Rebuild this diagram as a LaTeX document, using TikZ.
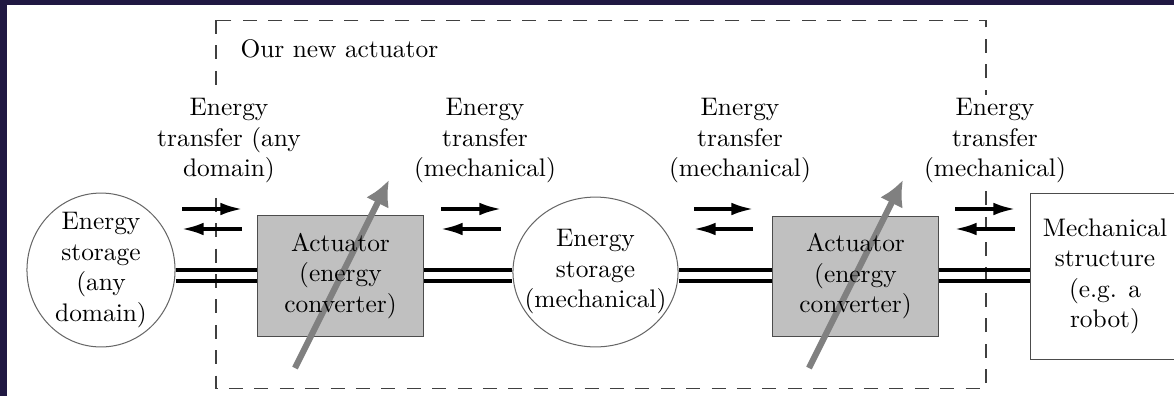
\documentclass[tikz,border=0pt]{standalone}
\usetikzlibrary{arrows.meta,shapes.geometric}
\definecolor{frame}{RGB}{32,24,66}
\definecolor{boxgray}{RGB}{192,192,192}
\begin{document}
\begin{tikzpicture}[x=0.3937pt,y=-0.3937pt,
  lbl/.style={align=center,fill=white,inner sep=1.5pt},
  txt/.style={align=center,inner sep=0pt},
  store/.style={ellipse,draw=black!60,inner sep=0pt},
  conv/.style={rectangle,draw=black!70,fill=boxgray,inner sep=0pt,minimum width=65.7pt,minimum height=47.3pt},
  plain/.style={rectangle,draw=black!70,fill=white,inner sep=0pt},
  link/.style={line width=1.2pt},
  flow/.style={line width=1.2pt,-{Latex[length=8.5pt,width=5pt]}},
  ctrl/.style={line width=2.4pt,draw=black!50,-{Latex[length=10pt,width=10pt]}},
  bound/.style={dash pattern=on 5.5pt off 4.5pt,draw=black!75,line width=0.4pt}]
\useasboundingbox (0,0) rectangle (1174,396);
\clip (0,0) rectangle (1174,396);
\fill[white] (0,0) rectangle (1174,396);
\fill[frame] (0,0) rectangle (1174,5);
\fill[frame] (0,0) rectangle (7,396);
% actuator boundary
\draw[bound] (216,20) rectangle (986,388);
\node[anchor=base west,inner sep=0pt] (title) at (240,57) {Our new actuator};
% transfer labels
\node[lbl] (t1) at (229,141) {Energy\\transfer (any\\domain)};
\node[lbl] (t2) at (485,141) {Energy\\transfer\\(mechanical)};
\node[lbl] (t3) at (740,141) {Energy\\transfer\\(mechanical)};
\node[lbl] (t4) at (995,141) {Energy\\transfer\\(mechanical)};
% block shapes
\node[store,minimum width=58.3pt,minimum height=60.6pt] (c1) at (101,270) {};
\node[conv] (a1) at (340.5,276) {};
\node[store,minimum width=65pt,minimum height=59pt] (c2) at (595.5,272) {};
\node[conv] (a2) at (855.5,276.5) {};
\node[plain,minimum width=59pt,minimum height=65.7pt] (m) at (1105,276.5) {};
% shafts (double lines)
\draw[link] (c1.east |- 0,270) -- (a1.west |- 0,270);
\draw[link] (c1.east |- 0,281) -- (a1.west |- 0,281);
\draw[link] (a1.east |- 0,270) -- (c2.west |- 0,270);
\draw[link] (a1.east |- 0,281) -- (c2.west |- 0,281);
\draw[link] (c2.east |- 0,270) -- (a2.west |- 0,270);
\draw[link] (c2.east |- 0,281) -- (a2.west |- 0,281);
\draw[link] (a2.east |- 0,270) -- (m.west |- 0,270);
\draw[link] (a2.east |- 0,281) -- (m.west |- 0,281);
% energy flow arrows
\foreach \xa/\xb in {182/242,441/501,694/753,955/1015}{
  \draw[flow] (\xa,209) -- (\xb,209);
  \draw[flow] (\xb,229) -- (\xa,229);
}
% control arrows
\draw[ctrl] (295,368) -- (389,180);
\draw[ctrl] (809,368) -- (903,180);
% block texts
\node[txt] (c1t) at (c1) {Energy\\storage\\(any\\domain)};
\node[txt] (a1t) at (a1) {Actuator\\(energy\\converter)};
\node[txt] (c2t) at (c2) {Energy\\storage\\(mechanical)};
\node[txt] (a2t) at (a2) {Actuator\\(energy\\converter)};
\node[txt] (mt) at (m) {Mechanical\\structure\\(e.g. a\\robot)};
\end{tikzpicture}
\end{document}
